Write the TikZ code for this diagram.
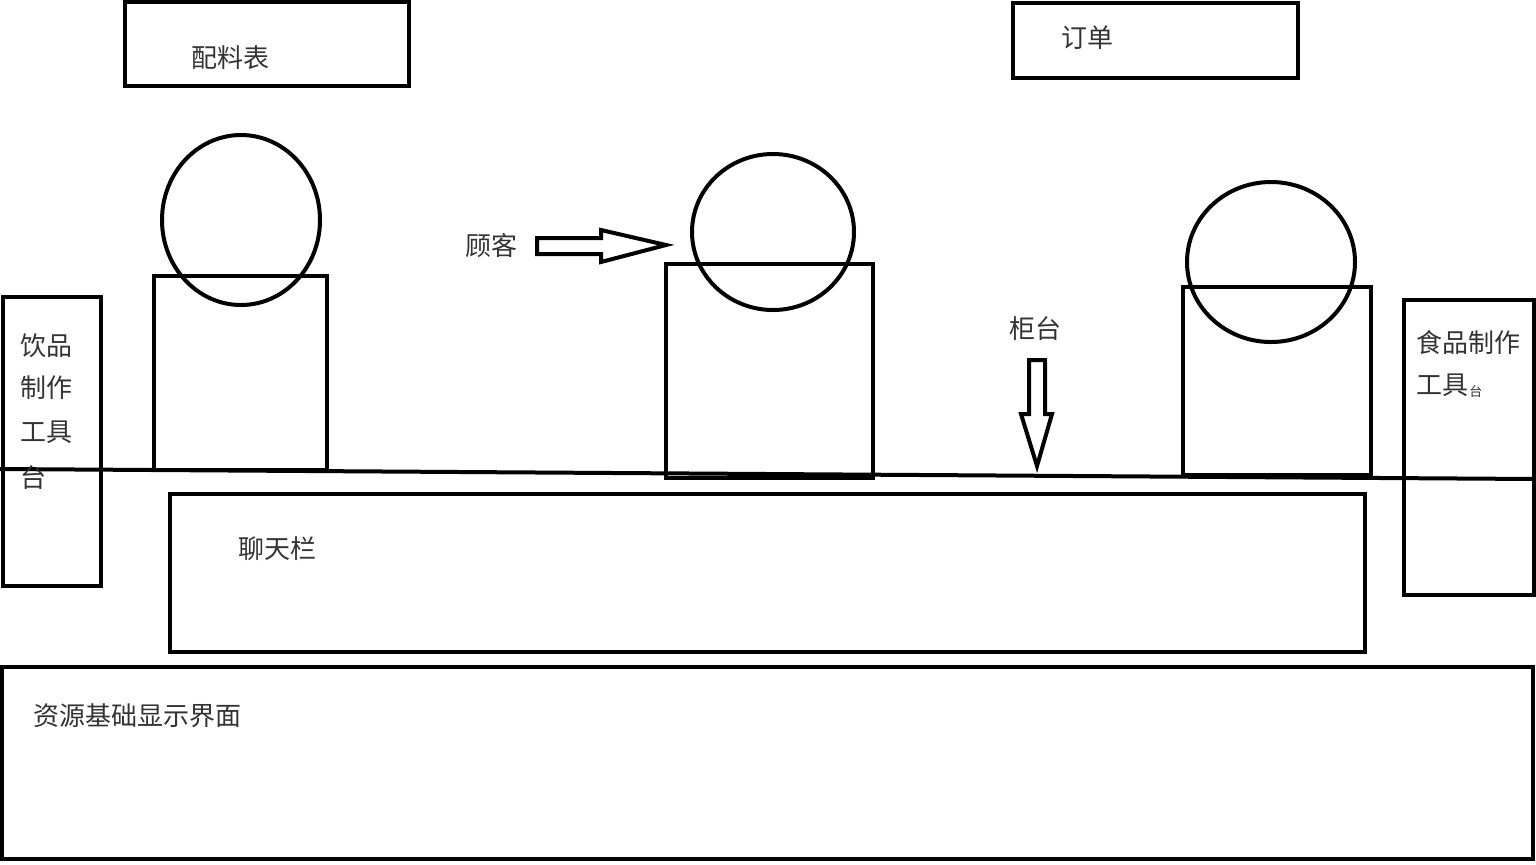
\documentclass[tikz,border=0pt]{standalone}
\usepackage{fontspec}
\setmainfont{Noto Sans CJK SC}
\begin{document}
\begin{tikzpicture}[x=0.5pt,y=-0.5pt,
  shape line/.style={draw=black,line width=2pt},
  lbl/.style={inner sep=0pt,anchor=west,text=black!80,font=\fontsize{13pt}{15pt}\selectfont}]
\useasboundingbox[fill=white] (0,0) rectangle (1536,864);
% top boxes
\draw[shape line] (125,2) rectangle (409,86);
\node[lbl] (peiliao) at (191,58) {配料表};
\draw[shape line] (1013,3) rectangle (1298,78);
\node[lbl] (dingdan) at (1061,38) {订单};
% counter line
\draw[shape line] (0,469) -- (1536,479);
% figures
\draw[shape line] (154,276) rectangle (327,470);
\draw[shape line] (241,220) ellipse [x radius=79, y radius=85];
\draw[shape line] (666,264) rectangle (873,478);
\draw[shape line] (773,232) ellipse [x radius=81, y radius=78];
\draw[shape line] (1183,287) rectangle (1371,475);
\draw[shape line] (1271,262) ellipse [x radius=84, y radius=80];
% side boxes
\draw[shape line] (3,297) rectangle (101,586);
\node[lbl] (yin1) at (20,346) {饮品};
\node[lbl] (yin2) at (20,388) {制作};
\node[lbl] (yin3) at (20,432) {工具};
\node[lbl] (yin4) at (20,478) {台};
\draw[shape line] (1404,300) rectangle (1534,595);
\node[lbl] (shi1) at (1416,343) {食品制作};
\node[lbl] (shi2) at (1416,385) {工具};
\node[lbl,font=\fontsize{6.5pt}{8pt}\selectfont] (shi3) at (1469,392) {台};
% bottom boxes
\draw[shape line] (170,494) rectangle (1365,652);
\node[lbl] (chat) at (238,549) {聊天栏};
\draw[shape line] (2,667) rectangle (1533,859);
\node[lbl] (res) at (33,716) {资源基础显示界面};
% labels and arrows
\node[lbl] (guke) at (465,246) {顾客};
\draw[shape line,line join=miter] (537,238) -- (601,238) -- (601,230) -- (666,245) -- (601,262) -- (601,254) -- (537,254) -- cycle;
\node[lbl] (guitai) at (1009,329) {柜台};
\draw[shape line,line join=miter] (1029,360) -- (1045,360) -- (1045,414) -- (1052,414) -- (1037,466) -- (1021,414) -- (1029,414) -- cycle;
\end{tikzpicture}
\end{document}
